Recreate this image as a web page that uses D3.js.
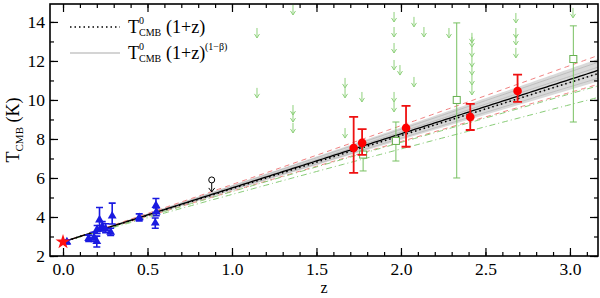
<!DOCTYPE html>
<html>
<head>
<meta charset="utf-8">
<script src="https://cdn.jsdelivr.net/npm/d3@7"></script>
<style>
  body { margin: 0; background: #fff; }
  svg text { font-family: 'Liberation Serif', 'Times New Roman', Times, serif; }
</style>
</head>
<body>
<div id="chart"></div>
<script>
// CMB temperature, local value
var T0 = 2.725;

// SZ cluster measurements (blue triangles)
var szPoints = [
  {z: 0.023, t: 2.72, lo: 0.10, hi: 0.10},
  {z: 0.152, t: 2.90, lo: 0.16, hi: 0.17},
  {z: 0.183, t: 2.95, lo: 0.21, hi: 0.27},
  {z: 0.200, t: 2.74, lo: 0.28, hi: 0.28},
  {z: 0.202, t: 3.36, lo: 0.20, hi: 0.20},
  {z: 0.216, t: 3.85, lo: 0.50, hi: 0.64},
  {z: 0.232, t: 3.51, lo: 0.22, hi: 0.25},
  {z: 0.252, t: 3.39, lo: 0.19, hi: 0.26},
  {z: 0.282, t: 3.22, lo: 0.16, hi: 0.20},
  {z: 0.291, t: 4.05, lo: 0.41, hi: 0.66},
  {z: 0.451, t: 3.97, lo: 0.17, hi: 0.19},
  {z: 0.546, t: 3.69, lo: 0.27, hi: 0.26},
  {z: 0.550, t: 4.59, lo: 0.36, hi: 0.36},
  {z: 0.552, t: 4.26, lo: 0.20, hi: 0.20}
];

// absorption line measurements (red filled circles)
var redPoints = [
  {z: 1.72, t: 7.54, lo: 1.28, hi: 1.59},
  {z: 1.77, t: 7.80, lo: 0.62, hi: 0.70},
  {z: 2.03, t: 8.56, lo: 0.96, hi: 1.14},
  {z: 2.41, t: 9.13, lo: 0.67, hi: 0.67},
  {z: 2.69, t: 10.46, lo: 0.56, hi: 0.84}
];

// older measurements (green open squares)
var greenPoints = [
  {z: 1.776, t: 7.20, lo: 0.84, hi: 0.60},
  {z: 1.97, t: 7.90, lo: 1.03, hi: 0.97},
  {z: 2.33, t: 10.00, lo: 4.00, hi: 3.95},
  {z: 3.02, t: 12.10, lo: 3.23, hi: 1.70}
];

// upper limits (green arrows)
var limitZ = [1.148, 1.148, 1.361, 1.361, 1.361, 1.361, 1.669, 1.669, 1.669, 1.769,
              1.959, 1.959, 1.959, 1.959, 1.959, 1.959, 1.994, 2.077, 2.077, 2.136, 2.284,
              2.420, 2.420, 2.420, 2.420, 2.420, 2.420, 2.420,
              2.680, 2.680, 2.680, 2.680, 3.018];
var limitT = [13.69, 10.62, 14.87, 9.74, 9.38, 8.82, 11.13, 10.62, 8.56, 10.41,
              14.51, 13.74, 12.92, 12.05, 10.41, 9.90, 11.79, 14.26, 11.18, 13.74, 13.69,
              13.44, 13.23, 12.72, 12.21, 11.79, 11.28, 10.77,
              14.46, 13.69, 13.33, 12.67, 14.72];

// black upper limit
var blackLimit = [{z: 0.88, t: 5.9}];

// model exponents: T0 (1+z)^(1-beta)
var betaFit = -0.01;
var betaBand = [-0.045, 0.025];
var betaBandLines = [-0.035, -0.02, 0.0, 0.015];
var betaRed = [-0.055, 0.035];
var betaGreen = [0.04, 0.08];

var xTicks = [0.0, 0.5, 1.0, 1.5, 2.0, 2.5, 3.0];
var yTicks = [2, 4, 6, 8, 10, 12, 14];

var FONT = "'Liberation Serif', 'Times New Roman', Times, serif";
var W = 600, H = 298;
var svg = d3.select("#chart").append("svg").attr("width", W).attr("height", H)
    .attr("font-family", FONT);

var x = d3.scaleLinear().domain([-0.077, 3.166]).range([50, 598]);
var y = d3.scaleLinear().domain([2, 14.92]).range([256, 4]);

svg.append("clipPath").attr("id", "clip").append("rect")
    .attr("x", 50).attr("y", 4).attr("width", 548).attr("height", 252);
var plot = svg.append("g").attr("clip-path", "url(#clip)");

var zs = d3.range(0, 3.21, 0.02);
function model(beta) {
  return zs.map(function (z) { return [z, T0 * Math.pow(1 + z, 1 - beta)]; });
}
var line = d3.line().x(function (d) { return x(d[0]); }).y(function (d) { return y(d[1]); });

// grey band
var area = d3.area()
    .x(function (d) { return x(d.z); })
    .y0(function (d) { return y(T0 * Math.pow(1 + d.z, 1 - betaBand[1])); })
    .y1(function (d) { return y(T0 * Math.pow(1 + d.z, 1 - betaBand[0])); });
plot.append("path").datum(zs.map(function (z) { return {z: z}; }))
    .attr("d", area).style("fill", "#d2d2d2").style("opacity", 0.85);
betaBandLines.forEach(function (b) {
  plot.append("path").datum(model(b)).attr("d", line)
      .style("fill", "none").style("stroke", "#b8b8b8").style("stroke-width", 0.8);
});

betaRed.forEach(function (b) {
  plot.append("path").datum(model(b)).attr("d", line)
      .style("fill", "none").style("stroke", "#f08080").style("stroke-width", 1)
      .style("stroke-dasharray", "5,4");
});
betaGreen.forEach(function (b) {
  plot.append("path").datum(model(b)).attr("d", line)
      .style("fill", "none").style("stroke", "#88cc77").style("stroke-width", 1)
      .style("stroke-dasharray", "6,3,1,3");
});

// fit and standard scaling
plot.append("path").datum(model(betaFit)).attr("d", line)
    .style("fill", "none").style("stroke", "#000").style("stroke-width", 1.3);
plot.append("path").datum(model(0)).attr("d", line)
    .style("fill", "none").style("stroke", "#000").style("stroke-width", 1.6)
    .style("stroke-dasharray", "1.5,3");

// upper limit arrows
var arrowColor = "#8fd17c";
limitZ.forEach(function (z, i) {
  var px = x(z), py = y(limitT[i]);
  plot.append("path")
      .attr("d", "M" + px + "," + py + "V" + (py + 10) +
                 "M" + (px - 2.5) + "," + (py + 6) + "L" + px + "," + (py + 10) + "L" + (px + 2.5) + "," + (py + 6))
      .style("fill", "none").style("stroke", arrowColor).style("stroke-width", 1);
});

// black upper limit symbol
blackLimit.forEach(function (d) {
  var px = x(d.z), py = y(d.t);
  plot.append("circle").attr("cx", px).attr("cy", py).attr("r", 3)
      .style("fill", "none").style("stroke", "#000").style("stroke-width", 1);
  plot.append("path")
      .attr("d", "M" + px + "," + (py + 3) + "V" + (py + 12) +
                 "M" + (px - 3) + "," + (py + 8) + "L" + px + "," + (py + 12) + "L" + (px + 3) + "," + (py + 8))
      .style("fill", "none").style("stroke", "#000").style("stroke-width", 1);
});

function errorBars(g, data, color, cap, width) {
  data.forEach(function (d) {
    var px = x(d.z), top = y(d.t + d.hi), bot = y(d.t - d.lo);
    g.append("path")
        .attr("d", "M" + px + "," + top + "V" + bot +
                   "M" + (px - cap) + "," + top + "H" + (px + cap) +
                   "M" + (px - cap) + "," + bot + "H" + (px + cap))
        .style("fill", "none").style("stroke", color).style("stroke-width", width);
  });
}

// green squares
errorBars(plot, greenPoints, "#77c060", 3.5, 1);
plot.selectAll(".gsq").data(greenPoints).enter().append("rect")
    .attr("x", function (d) { return x(d.z) - 3.5; })
    .attr("y", function (d) { return y(d.t) - 3.5; })
    .attr("width", 7).attr("height", 7)
    .style("fill", "#fff").style("stroke", "#66b050").style("stroke-width", 1);

// red circles
errorBars(plot, redPoints, "#ee1111", 4.5, 1.8);
plot.selectAll(".rc").data(redPoints).enter().append("circle")
    .attr("cx", function (d) { return x(d.z); })
    .attr("cy", function (d) { return y(d.t); })
    .attr("r", 4.3).style("fill", "#ff0000");

// blue triangles
errorBars(plot, szPoints, "#1a1ae0", 3.5, 1.6);
var tri = d3.symbol().type(d3.symbolTriangle).size(34);
plot.selectAll(".bt").data(szPoints).enter().append("path")
    .attr("d", tri)
    .attr("transform", function (d) { return "translate(" + x(d.z) + "," + y(d.t) + ")"; })
    .style("fill", "#1a1ae0");

// local value star
plot.append("path").attr("d", d3.symbol().type(d3.symbolStar).size(70)())
    .attr("transform", "translate(" + x(0) + "," + y(T0) + ")")
    .style("fill", "#ff1010");

// axes with inward ticks
var minorX = d3.range(0, 32).map(function (i) { return i / 10; });
var minorY = d3.range(2, 15);
function noLabels(g) { g.selectAll("text").remove(); g.select(".domain").remove(); }

svg.append("g").attr("transform", "translate(0,256)")
    .call(d3.axisBottom(x).tickValues(minorX).tickSize(-4)).call(noLabels);
svg.append("g").attr("transform", "translate(0,4)")
    .call(d3.axisTop(x).tickValues(minorX).tickSize(-4)).call(noLabels);
svg.append("g").attr("transform", "translate(0,4)")
    .call(d3.axisTop(x).tickValues(xTicks).tickSize(-8)).call(noLabels);
svg.append("g").attr("transform", "translate(50,0)")
    .call(d3.axisLeft(y).tickValues(minorY).tickSize(-4)).call(noLabels);
svg.append("g").attr("transform", "translate(598,0)")
    .call(d3.axisRight(y).tickValues(minorY).tickSize(-4)).call(noLabels);
svg.append("g").attr("transform", "translate(598,0)")
    .call(d3.axisRight(y).tickValues(yTicks).tickSize(-8)).call(noLabels);

var xAxis = svg.append("g").attr("transform", "translate(0,256)")
    .call(d3.axisBottom(x).tickValues(xTicks).tickSize(-8).tickPadding(7).tickFormat(d3.format(".1f")));
var yAxis = svg.append("g").attr("transform", "translate(50,0)")
    .call(d3.axisLeft(y).tickValues(yTicks).tickSize(-8).tickPadding(5));
[xAxis, yAxis].forEach(function (g) {
  g.attr("font-family", FONT).attr("font-size", 17.5);
  g.select(".domain").remove();
  g.selectAll("text").attr("fill", "#000");
});
svg.selectAll(".tick line").style("stroke", "#000").style("stroke-width", 1.2);

svg.append("rect").attr("x", 50).attr("y", 4).attr("width", 548).attr("height", 252)
    .style("fill", "none").style("stroke", "#000").style("stroke-width", 1.6);

// axis titles
svg.append("text").attr("x", 324).attr("y", 293).attr("text-anchor", "middle")
    .attr("font-size", 16).text("z");

var yl = svg.append("text").attr("transform", "translate(19,130) rotate(-90)")
    .attr("text-anchor", "middle").attr("font-size", 18);
yl.append("tspan").text("T");
yl.append("tspan").attr("dy", 4).attr("font-size", 11).text("CMB");
yl.append("tspan").attr("dy", -4).text(" (K)");

// legend
var legendItems = [
  {y: 27, dash: "1.5,3", color: "#000", width: 1.6, sup: null},
  {y: 53, dash: null, color: "#aaa", width: 1.2, sup: "(1\u2212\u03b2)"}
];
legendItems.forEach(function (d) {
  svg.append("line").attr("x1", 70).attr("x2", 120).attr("y1", d.y).attr("y2", d.y)
      .style("stroke", d.color).style("stroke-width", d.width)
      .style("stroke-dasharray", d.dash);
  var base = d.y + 6;
  svg.append("text").attr("x", 128).attr("y", base).attr("font-size", 18).text("T");
  svg.append("text").attr("x", 139).attr("y", base - 9).attr("font-size", 10).text("0");
  svg.append("text").attr("x", 139).attr("y", base + 3).attr("font-size", 10).text("CMB");
  svg.append("text").attr("x", 166).attr("y", base).attr("font-size", 18).text("(1+z)");
  if (d.sup) {
    svg.append("text").attr("x", 205).attr("y", base - 9).attr("font-size", 10).text(d.sup);
  }
});
</script>
</body>
</html>
